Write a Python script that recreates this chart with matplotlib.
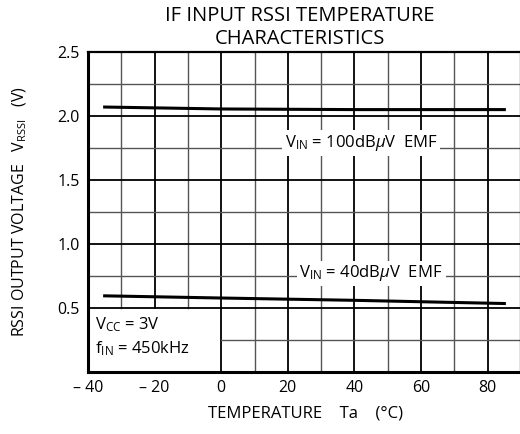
import matplotlib
matplotlib.use("Agg")
import matplotlib.pyplot as plt

# Daten
temp = [-35, 0, 40, 85]
v_100db = [2.07, 2.055, 2.05, 2.05]
v_40db = [0.595, 0.578, 0.56, 0.535]

x_ticks = [-40, -20, 0, 20, 40, 60, 80]
x_labels = ["\u2013 40", "\u2013 20", "0", "20", "40", "60", "80"]
y_ticks = [0.5, 1.0, 1.5, 2.0, 2.5]
y_labels = ["0.5", "1.0", "1.5", "2.0", "2.5"]

plt.rcParams["font.family"] = ["Open Sans", "DejaVu Sans"]
plt.rcParams["mathtext.fontset"] = "custom"
plt.rcParams["mathtext.rm"] = "Open Sans"
plt.rcParams["mathtext.it"] = "Open Sans:italic"

fig = plt.figure(figsize=(5.2, 4.34), dpi=100)
ax = fig.add_axes([88 / 520, 62 / 434, 433 / 520, 320 / 434])
ax.set_xlim(-40, 90)
ax.set_ylim(0, 2.5)

# Gitter von Hand, unten links bleibt frei
for x in range(-30, 90, 10):
    major = x % 20 == 0
    ymin = 0.2 if x < 0 else 0.0
    ax.axvline(x, ymin=ymin, ymax=1, color="black" if major else "#555555",
               lw=1.3 if major else 1.0, zorder=1)
for i in range(1, 10):
    y = i * 0.25
    major = i % 2 == 0
    xmin = 40 / 130 if i == 1 else 0.0
    ax.axhline(y, xmin=xmin, xmax=1, color="black" if major else "#555555",
               lw=1.3 if major else 1.0, zorder=1)

ax.plot(temp, v_100db, color="black", lw=2.2, zorder=3)
ax.plot(temp, v_40db, color="black", lw=2.2, zorder=3)

box = dict(facecolor="white", edgecolor="none", pad=2)
ax.text(42, 1.79, r"V$_{\rm IN}$ = 100dB$\mu$V  EMF", ha="center", va="center",
        fontsize=12, bbox=box, zorder=4)
ax.text(45, 0.77, r"V$_{\rm IN}$ = 40dB$\mu$V  EMF", ha="center", va="center",
        fontsize=12, bbox=box, zorder=4)
ax.text(-38, 0.37, r"V$_{\rm CC}$ = 3V", ha="left", va="center", fontsize=12)
ax.text(-38, 0.18, r"f$_{\rm IN}$ = 450kHz", ha="left", va="center", fontsize=12)

ax.set_xticks(x_ticks)
ax.set_xticklabels(x_labels, fontsize=11.5)
ax.set_yticks(y_ticks)
ax.set_yticklabels(y_labels, fontsize=11.5)
ax.tick_params(length=0, pad=6)

for side in ["left", "bottom"]:
    ax.spines[side].set_linewidth(2.2)
ax.spines["top"].set_linewidth(1.6)
ax.spines["right"].set_linewidth(1.6)

fig.text(300 / 520, 1 - 16 / 434, "IF INPUT RSSI TEMPERATURE", ha="center", va="center", fontsize=14.5)
fig.text(300 / 520, 1 - 39 / 434, "CHARACTERISTICS", ha="center", va="center", fontsize=14.5)
fig.text(20 / 520, 1 - 212 / 434, r"RSSI OUTPUT VOLTAGE   V$_{\rm RSSI}$   (V)",
         rotation=90, ha="center", va="center", fontsize=11.5)
fig.text(306 / 520, 1 - 414 / 434, "TEMPERATURE    Ta    (\u00b0C)", ha="center", va="center", fontsize=12)

fig.savefig("out.png", dpi=100)
